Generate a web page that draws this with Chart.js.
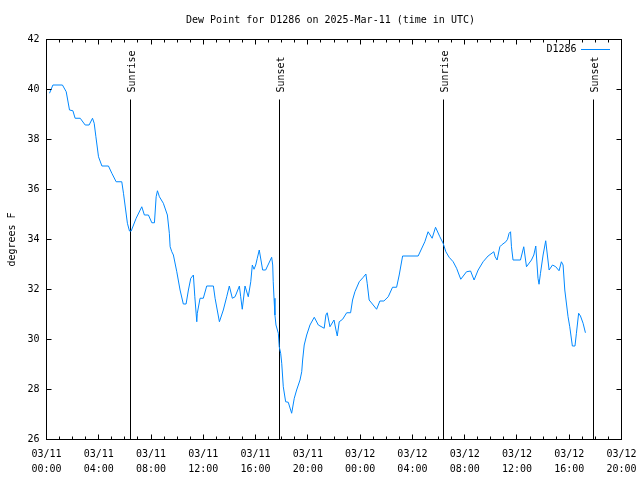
<!DOCTYPE html>
<html>
<head>
<meta charset="utf-8">
<script src="https://cdn.jsdelivr.net/npm/chart.js@4.4.1/dist/chart.umd.min.js"></script>
<style>
  html, body { margin: 0; padding: 0; background: #fff; }
  #wrap { width: 640px; height: 480px; }
</style>
</head>
<body>
<div id="wrap"><canvas id="dewChart" width="640" height="480"></canvas></div>
<script>
// hours since 03/11 00:00 UTC
const hours = [
  0.23, 0.49, 1.22, 1.51, 1.76, 2.02, 2.19, 2.58, 2.96, 3.26, 3.52, 3.65, 3.78, 3.98,
  4.24, 4.74, 5.00, 5.33, 5.76, 5.89, 6.19, 6.35, 6.48, 6.86, 7.29, 7.49, 7.80, 8.06,
  8.26, 8.39, 8.49, 8.64, 8.94, 9.25, 9.40, 9.46, 9.59, 9.71, 9.97, 10.22, 10.47, 10.68,
  10.86, 11.04, 11.24, 11.35, 11.50, 11.54, 11.75, 12.00, 12.26, 12.77, 12.90, 13.23,
  13.53, 13.79, 13.99, 14.22, 14.43, 14.76, 14.86, 14.98, 15.19, 15.44, 15.63, 15.75,
  15.88, 16.01, 16.13, 16.28, 16.54, 16.77, 17.23, 17.31, 17.35, 17.41, 17.48, 17.56,
  17.74, 17.81, 17.92, 18.00, 18.12, 18.30, 18.50, 18.76, 18.96, 19.14, 19.40, 19.53,
  19.60, 19.72, 19.91, 20.16, 20.49, 20.80, 21.25, 21.38, 21.48, 21.69, 22.00, 22.15,
  22.25, 22.40, 22.66, 22.97, 23.27, 23.42, 23.60, 23.93, 24.24, 24.44, 24.54, 24.69,
  25.00, 25.26, 25.51, 25.82, 26.15, 26.48, 26.79, 26.99, 27.25, 28.44, 28.95, 29.20,
  29.51, 29.77, 30.10, 30.35, 30.56, 30.81, 31.12, 31.38, 31.70, 32.14, 32.45, 32.72,
  33.03, 33.41, 33.79, 34.23, 34.33, 34.48, 34.69, 34.82, 35.15, 35.28, 35.40, 35.51,
  35.58, 35.70, 36.27, 36.52, 36.73, 37.11, 37.29, 37.44, 37.61, 37.69, 37.80, 38.00,
  38.20, 38.46, 38.72, 38.97, 39.22, 39.40, 39.53, 39.66, 39.91, 40.04, 40.24, 40.44,
  40.55, 40.72, 40.86, 41.06, 41.24
];
const dewPoint = [
  39.85, 40.18, 40.18, 39.91, 39.18, 39.15, 38.85, 38.85, 38.58, 38.58, 38.85, 38.65, 38.11, 37.31,
  36.94, 36.94, 36.65, 36.31, 36.31, 35.85, 34.65, 34.34, 34.34, 34.85, 35.31, 34.98, 34.98, 34.67,
  34.67, 35.71, 35.95, 35.71, 35.45, 34.98, 34.25, 33.71, 33.51, 33.38, 32.71, 31.98, 31.42, 31.42,
  31.98, 32.45, 32.58, 31.71, 30.71, 31.05, 31.65, 31.65, 32.14, 32.14, 31.65, 30.71,
  31.18, 31.71, 32.14, 31.65, 31.71, 32.14, 31.71, 31.21, 32.14, 31.71, 32.31, 32.98,
  32.81, 32.98, 33.25, 33.58, 32.78, 32.78, 33.29, 32.98, 32.31, 31.65, 30.98, 30.58,
  30.25, 29.71, 29.45, 29.05, 28.11, 27.51, 27.49, 27.05, 27.65, 27.98, 28.38, 28.71,
  29.18, 29.78, 30.18, 30.58, 30.89, 30.58, 30.45, 30.98, 31.07, 30.51, 30.78, 30.38,
  30.14, 30.71, 30.81, 31.07, 31.07, 31.58, 31.91, 32.31, 32.49, 32.62, 32.25, 31.58,
  31.38, 31.21, 31.54, 31.54, 31.71, 32.09, 32.09, 32.58, 33.34, 33.34, 33.91, 34.31,
  34.05, 34.49, 34.11, 33.85, 33.51, 33.29, 33.11, 32.85, 32.41, 32.71, 32.74, 32.38,
  32.78, 33.11, 33.34, 33.51, 33.31, 33.18, 33.71, 33.78, 33.91, 34.01, 34.25, 34.31,
  33.71, 33.18, 33.18, 33.71, 32.91, 33.18, 33.38, 33.74, 32.45, 32.21, 32.65, 33.38,
  33.95, 32.78, 32.98, 32.91, 32.75, 33.11, 32.98, 31.98, 30.91, 30.51, 29.74, 29.74,
  30.25, 31.05, 30.94, 30.65, 30.27
];
const sunTimes = [6.43, 17.83, 30.38, 41.86];
const sunLabels = ['Sunrise', 'Sunset', 'Sunrise', 'Sunset'];
const xTickStep = 4;
const yTickStep = 2;

const monoFont = '"DejaVu Sans Mono", "Liberation Mono", monospace';
const lineColor = 'rgb(0,136,255)';

const points = hours.map((h, i) => ({ x: h, y: dewPoint[i] }));

const gnuplotLook = {
  id: 'gnuplotLook',
  beforeDatasetsDraw(chart) {
    const { ctx, chartArea, scales } = chart;
    const x = scales.x, y = scales.y;
    ctx.save();
    ctx.strokeStyle = '#000';
    ctx.lineWidth = 1;
    ctx.fillStyle = '#000';
    ctx.font = '10px ' + monoFont;
    sunTimes.forEach((t, i) => {
      const px = Math.round(x.getPixelForValue(t) - 0.5) + 0.5;
      const top = y.getPixelForValue(26 + 0.85 * 16);
      ctx.beginPath();
      ctx.moveTo(px, chartArea.bottom);
      ctx.lineTo(px, top);
      ctx.stroke();
      ctx.save();
      ctx.translate(px + 1.5, top - 7);
      ctx.rotate(-Math.PI / 2);
      ctx.textAlign = 'left';
      ctx.textBaseline = 'middle';
      ctx.fillText(sunLabels[i], 0, 0);
      ctx.restore();
    });
    ctx.restore();
  },
  afterDatasetsDraw(chart) {
    const { ctx, chartArea, scales } = chart;
    const x = scales.x, y = scales.y;
    const l = chartArea.left, r = chartArea.right, t = chartArea.top, b = chartArea.bottom;
    ctx.save();
    ctx.strokeStyle = '#000';
    ctx.lineWidth = 1;
    ctx.strokeRect(l, t, r - l, b - t);
    ctx.beginPath();
    for (let h = x.min; h <= x.max; h += 1) {
      const px = Math.round(x.getPixelForValue(h) - 0.5) + 0.5;
      const len = h % xTickStep === 0 ? 5 : 3;
      ctx.moveTo(px, b); ctx.lineTo(px, b - len);
      ctx.moveTo(px, t); ctx.lineTo(px, t + len);
    }
    for (let v = y.min; v <= y.max; v += yTickStep) {
      const py = Math.round(y.getPixelForValue(v) - 0.5) + 0.5;
      ctx.moveTo(l, py); ctx.lineTo(l + 5, py);
      ctx.moveTo(r, py); ctx.lineTo(r - 5, py);
    }
    ctx.stroke();

    // legend
    ctx.font = '10px ' + monoFont;
    ctx.fillStyle = '#000';
    ctx.textAlign = 'right';
    ctx.textBaseline = 'middle';
    ctx.fillText('D1286', 576.5, 49);
    ctx.strokeStyle = lineColor;
    ctx.beginPath();
    ctx.moveTo(581, 49.5); ctx.lineTo(610, 49.5);
    ctx.stroke();

    // title
    ctx.fillStyle = '#000';
    ctx.textAlign = 'center';
    ctx.fillText('Dew Point for D1286 on 2025-Mar-11 (time in UTC)', 330.5, 20);
    ctx.restore();
  }
};

new Chart(document.getElementById('dewChart').getContext('2d'), {
  type: 'line',
  data: {
    datasets: [{
      label: 'D1286',
      data: points,
      borderColor: lineColor,
      borderWidth: 1,
      pointRadius: 0,
      tension: 0,
      fill: false
    }]
  },
  options: {
    responsive: false,
    animation: false,
    devicePixelRatio: 1,
    layout: { padding: { left: 0, right: 18.5, top: 39.5, bottom: 0 } },
    plugins: {
      legend: { display: false },
      title: { display: false },
      tooltip: { enabled: false }
    },
    scales: {
      x: {
        type: 'linear',
        min: 0,
        max: 44,
        grid: { display: false, drawTicks: false },
        border: { display: false },
        ticks: {
          stepSize: xTickStep,
          autoSkip: false,
          maxRotation: 0,
          padding: 8,
          color: '#000',
          font: { family: monoFont, size: 10, lineHeight: 1.45 },
          callback: function (value) {
            const day = 11 + Math.floor(value / 24);
            const hh = String(value % 24).padStart(2, '0');
            return ['03/' + day, hh + ':00'];
          }
        },
        afterFit: function (scale) {
          scale.height = 40.5;
          scale.paddingLeft = 0;
          scale.paddingRight = 0;
        }
      },
      y: {
        min: 26,
        max: 42,
        grid: { display: false, drawTicks: false },
        border: { display: false },
        ticks: {
          stepSize: yTickStep,
          padding: 7,
          color: '#000',
          font: { family: monoFont, size: 10 }
        },
        title: {
          display: true,
          text: 'degrees F',
          color: '#000',
          font: { family: monoFont, size: 10, lineHeight: 1.2 },
          padding: { top: 6, bottom: 0 }
        },
        afterFit: function (scale) {
          scale.width = 46.5;
          scale.paddingTop = 0;
          scale.paddingBottom = 0;
        }
      }
    }
  },
  plugins: [gnuplotLook]
});
</script>
</body>
</html>
